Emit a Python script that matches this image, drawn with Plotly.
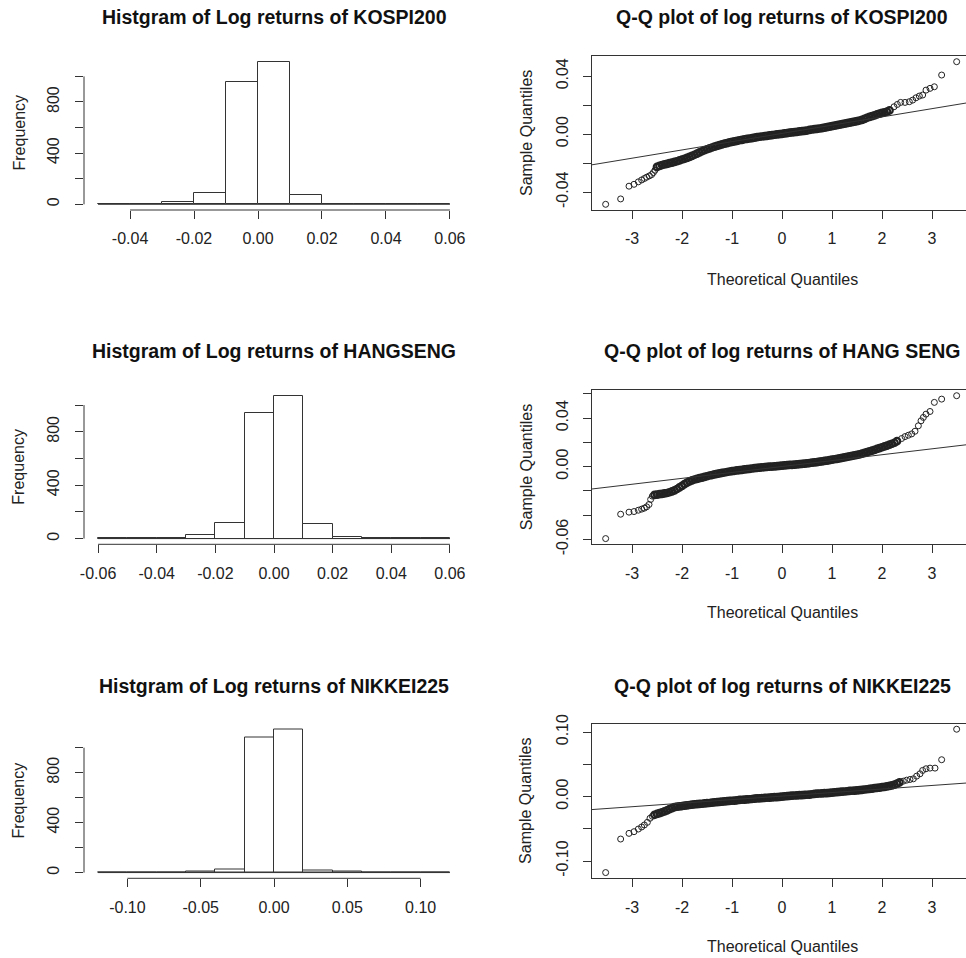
import plotly.graph_objects as go

W, H = 966, 958
FONT = "Liberation Sans, Arial, sans-serif"
INK = "#222222"
LINE = "#333333"

# ---------------- Histogram data (bin edges + counts) ----------------
kospi_edges = [-0.05, -0.04, -0.03, -0.02, -0.01, 0.00, 0.01, 0.02, 0.03, 0.04, 0.05, 0.06]
kospi_counts = [2, 4, 15, 92, 956, 1115, 70, 6, 3, 1, 1]

hsi_edges = [-0.06, -0.05, -0.04, -0.03, -0.02, -0.01, 0.00, 0.01, 0.02, 0.03, 0.04, 0.05, 0.06]
hsi_counts = [1, 2, 6, 25, 120, 940, 1070, 107, 14, 4, 3, 3]

nikkei_edges = [-0.12, -0.10, -0.08, -0.06, -0.04, -0.02, 0.00, 0.02, 0.04, 0.06, 0.08, 0.10, 0.12]
nikkei_counts = [1, 0, 1, 5, 22, 1081, 1148, 14, 5, 0, 0, 1]

kospi_hist_xticks = [-0.04, -0.02, 0.00, 0.02, 0.04, 0.06]
hsi_hist_xticks = [-0.06, -0.04, -0.02, 0.00, 0.02, 0.04, 0.06]
nikkei_hist_xticks = [-0.10, -0.05, 0.00, 0.05, 0.10]
freq_ticks = [0, 200, 400, 600, 800, 1000]
freq_labels = ["0", "", "400", "", "800", ""]

# ---------------- Q-Q data ----------------
# sparse tails (individually visible circles)
kospi_tail_theo = [-3.527, -3.227, -3.06, -2.96, -2.873, -2.807, -2.753, -2.707, -2.653, -2.607, -2.573, -2.54,
                   2.24, 2.307, 2.373, 2.46, 2.547, 2.613, 2.68, 2.747, 2.813, 2.88, 2.96, 3.047, 3.193, 3.493]
kospi_tail_sample = [-0.0484, -0.0447, -0.0359, -0.0346, -0.0329, -0.0316, -0.0306, -0.0297, -0.0288, -0.0279, -0.0265, -0.0249,
                     0.0189, 0.0205, 0.0219, 0.0219, 0.0224, 0.0235, 0.0251, 0.0263, 0.0270, 0.0304, 0.0316, 0.0327, 0.0408, 0.0500]
# dense central band (overplotted circles)
kospi_band_theo = [-2.50, -2.45, -2.40, -2.35, -2.30, -2.25, -2.20, -2.15, -2.10, -2.05, -2.00, -1.95, -1.90, -1.85,
                   -1.80, -1.75, -1.70, -1.65, -1.60, -1.55, -1.50, -1.45, -1.40, -1.35, -1.30, -1.25, -1.20, -1.15,
                   -1.10, -1.05, -1.00, -0.95, -0.90, -0.85, -0.80, -0.75, -0.70, -0.65, -0.60, -0.55, -0.50, -0.45,
                   -0.40, -0.35, -0.30, -0.25, -0.20, -0.15, -0.10, -0.05, 0.00, 0.05, 0.10, 0.15, 0.20, 0.25, 0.30,
                   0.35, 0.40, 0.45, 0.50, 0.55, 0.60, 0.65, 0.70, 0.75, 0.80, 0.85, 0.90, 0.95, 1.00, 1.05, 1.10,
                   1.15, 1.20, 1.25, 1.30, 1.35, 1.40, 1.45, 1.50, 1.55, 1.60, 1.65, 1.70, 1.75, 1.80, 1.85, 1.90,
                   1.95, 2.00, 2.05, 2.10, 2.15]
kospi_band_sample = [-0.0226, -0.0219, -0.0213, -0.0209, -0.0205, -0.0200, -0.0196, -0.0191, -0.0187, -0.0181, -0.0175,
                     -0.0170, -0.0164, -0.0157, -0.0150, -0.0142, -0.0134, -0.0126, -0.0118, -0.0111, -0.0104, -0.0098,
                     -0.0092, -0.0086, -0.0081, -0.0076, -0.0071, -0.0066, -0.0062, -0.0057, -0.0053, -0.0050, -0.0046,
                     -0.0042, -0.0039, -0.0035, -0.0032, -0.0030, -0.0028, -0.0024, -0.0021, -0.0018, -0.0016, -0.0014,
                     -0.0012, -0.0009, -0.0007, -0.0004, -0.0002, 0.0000, 0.0002, 0.0005, 0.0007, 0.0010, 0.0012, 0.0014,
                     0.0016, 0.0019, 0.0021, 0.0023, 0.0025, 0.0029, 0.0032, 0.0035, 0.0037, 0.0039, 0.0041, 0.0045,
                     0.0048, 0.0052, 0.0055, 0.0059, 0.0062, 0.0066, 0.0069, 0.0073, 0.0076, 0.0080, 0.0083, 0.0087,
                     0.0090, 0.0094, 0.0099, 0.0106, 0.0113, 0.0119, 0.0124, 0.0130, 0.0136, 0.0142, 0.0147, 0.0151,
                     0.0155, 0.0164]

hsi_tail_theo = [-3.527, -3.227, -3.06, -2.96, -2.873, -2.807, -2.753, -2.707, -2.66, -2.627, -2.593,
                 2.393, 2.46, 2.527, 2.593, 2.66, 2.727, 2.78, 2.827, 2.88, 2.96, 3.047, 3.193, 3.493]
hsi_tail_sample = [-0.0593, -0.0392, -0.0375, -0.0370, -0.0359, -0.0350, -0.0342, -0.0331, -0.0312, -0.0270, -0.0243,
                   0.0232, 0.0248, 0.0259, 0.0270, 0.0292, 0.0337, 0.0378, 0.0406, 0.0433, 0.0455, 0.0530, 0.0557, 0.0585]
hsi_band_theo = [-2.55, -2.50, -2.45, -2.40, -2.35, -2.30, -2.25, -2.20, -2.15, -2.10, -2.05, -2.00, -1.95, -1.90,
                 -1.85, -1.80, -1.75, -1.70, -1.65, -1.60, -1.55, -1.50, -1.45, -1.40, -1.35, -1.30, -1.25, -1.20,
                 -1.15, -1.10, -1.05, -1.00, -0.95, -0.90, -0.85, -0.80, -0.75, -0.70, -0.65, -0.60, -0.55, -0.50,
                 -0.45, -0.40, -0.35, -0.30, -0.25, -0.20, -0.15, -0.10, -0.05, 0.00, 0.05, 0.10, 0.15, 0.20, 0.25,
                 0.30, 0.35, 0.40, 0.45, 0.50, 0.55, 0.60, 0.65, 0.70, 0.75, 0.80, 0.85, 0.90, 0.95, 1.00, 1.05,
                 1.10, 1.15, 1.20, 1.25, 1.30, 1.35, 1.40, 1.45, 1.50, 1.55, 1.60, 1.65, 1.70, 1.75, 1.80, 1.85,
                 1.90, 1.95, 2.00, 2.05, 2.10, 2.15, 2.20, 2.25, 2.30]
hsi_band_sample = [-0.0233, -0.0230, -0.0227, -0.0224, -0.0221, -0.0217, -0.0211, -0.0204, -0.0195, -0.0184, -0.0171,
                   -0.0158, -0.0144, -0.0131, -0.0121, -0.0113, -0.0106, -0.0101, -0.0095, -0.0090, -0.0084, -0.0079,
                   -0.0073, -0.0069, -0.0064, -0.0060, -0.0056, -0.0052, -0.0048, -0.0044, -0.0040, -0.0037, -0.0034,
                   -0.0031, -0.0028, -0.0026, -0.0023, -0.0020, -0.0018, -0.0015, -0.0012, -0.0010, -0.0008, -0.0006,
                   -0.0004, -0.0002, 0.0000, 0.0001, 0.0003, 0.0005, 0.0007, 0.0009, 0.0011, 0.0012, 0.0014, 0.0015,
                   0.0017, 0.0019, 0.0021, 0.0023, 0.0025, 0.0027, 0.0030, 0.0033, 0.0036, 0.0038, 0.0041, 0.0044,
                   0.0047, 0.0050, 0.0054, 0.0058, 0.0061, 0.0064, 0.0068, 0.0072, 0.0076, 0.0081, 0.0085, 0.0089,
                   0.0093, 0.0097, 0.0101, 0.0107, 0.0114, 0.0120, 0.0126, 0.0132, 0.0139, 0.0146, 0.0153, 0.0160,
                   0.0167, 0.0174, 0.0181, 0.0189, 0.0197, 0.0210]

nikkei_tail_theo = [-3.527, -3.227, -3.06, -2.96, -2.873, -2.807, -2.753, -2.693, -2.64, -2.593,
                    2.427, 2.493, 2.56, 2.627, 2.693, 2.76, 2.813, 2.88, 2.96, 3.06, 3.193, 3.493]
nikkei_tail_sample = [-0.1179, -0.0659, -0.0571, -0.0545, -0.0504, -0.0472, -0.0441, -0.0400, -0.0337, -0.0306,
                      0.0239, 0.0254, 0.0265, 0.0275, 0.0317, 0.0353, 0.0405, 0.0431, 0.0441, 0.0441, 0.0571, 0.1044]
nikkei_band_theo = [-2.55, -2.50, -2.45, -2.40, -2.35, -2.30, -2.25, -2.20, -2.15, -2.10, -2.05, -2.00, -1.95, -1.90,
                    -1.85, -1.80, -1.75, -1.70, -1.65, -1.60, -1.55, -1.50, -1.45, -1.40, -1.35, -1.30, -1.25, -1.20,
                    -1.15, -1.10, -1.05, -1.00, -0.95, -0.90, -0.85, -0.80, -0.75, -0.70, -0.65, -0.60, -0.55, -0.50,
                    -0.45, -0.40, -0.35, -0.30, -0.25, -0.20, -0.15, -0.10, -0.05, 0.00, 0.05, 0.10, 0.15, 0.20, 0.25,
                    0.30, 0.35, 0.40, 0.45, 0.50, 0.55, 0.60, 0.65, 0.70, 0.75, 0.80, 0.85, 0.90, 0.95, 1.00, 1.05,
                    1.10, 1.15, 1.20, 1.25, 1.30, 1.35, 1.40, 1.45, 1.50, 1.55, 1.60, 1.65, 1.70, 1.75, 1.80, 1.85,
                    1.90, 1.95, 2.00, 2.05, 2.10, 2.15, 2.20, 2.25, 2.30, 2.35]
nikkei_band_sample = [-0.0283, -0.0270, -0.0257, -0.0244, -0.0231, -0.0214, -0.0196, -0.0180, -0.0164, -0.0157, -0.0152,
                      -0.0147, -0.0141, -0.0136, -0.0131, -0.0126, -0.0120, -0.0117, -0.0115, -0.0112, -0.0106, -0.0102,
                      -0.0100, -0.0095, -0.0089, -0.0086, -0.0084, -0.0080, -0.0074, -0.0070, -0.0068, -0.0065, -0.0063,
                      -0.0058, -0.0053, -0.0050, -0.0048, -0.0045, -0.0042, -0.0038, -0.0032, -0.0029, -0.0027, -0.0024,
                      -0.0021, -0.0019, -0.0016, -0.0013, -0.0010, -0.0008, -0.0005, -0.0001, 0.0004, 0.0007, 0.0010,
                      0.0013, 0.0016, 0.0018, 0.0021, 0.0023, 0.0026, 0.0028, 0.0031, 0.0036, 0.0041, 0.0044, 0.0047,
                      0.0049, 0.0052, 0.0054, 0.0057, 0.0061, 0.0066, 0.0069, 0.0073, 0.0075, 0.0078, 0.0082, 0.0087,
                      0.0090, 0.0093, 0.0095, 0.0099, 0.0103, 0.0109, 0.0113, 0.0118, 0.0124, 0.0130, 0.0134, 0.0139,
                      0.0145, 0.0150, 0.0157, 0.0165, 0.0174, 0.0185, 0.0200, 0.0220]

# qqline (intercept, slope)
kospi_qqline = (0.0005, 0.0057)
hsi_qqline = (0.0001, 0.00487)
nikkei_qqline = (0.0007, 0.0055)

qq_xticks = [-3, -2, -1, 0, 1, 2, 3]
kospi_qq_yticks = [-0.04, -0.02, 0.00, 0.02, 0.04]
kospi_qq_ylabels = ["-0.04", "", "0.00", "", "0.04"]
hsi_qq_yticks = [-0.06, -0.04, -0.02, 0.00, 0.02, 0.04, 0.06]
hsi_qq_ylabels = ["-0.06", "", "", "0.00", "", "0.04", ""]
nikkei_qq_yticks = [-0.10, -0.05, 0.00, 0.05, 0.10]
nikkei_qq_ylabels = ["-0.10", "", "0.00", "", "0.10"]

hist_titles = ["Histgram of Log returns of KOSPI200",
               "Histgram of Log returns of HANGSENG",
               "Histgram of Log returns of NIKKEI225"]
qq_titles = ["Q-Q plot of log returns of KOSPI200",
             "Q-Q plot of log returns of HANG SENG",
             "Q-Q plot of log returns of NIKKEI225"]

# ---------------- layout geometry (pixels) ----------------
rows_px = [(56, 210), (390, 544.3), (723.5, 878.3)]   # plot-region top/bottom
hist_x_px = (84, 464)
qq_x_px = (591.7, 966)
qq_xrange = [-3.806, 3.68]     # visible part (right edge cropped)
title_y_px = [17, 351, 686]
qq_xlab_y_px = [279, 612, 946]

def px_x(x):
    return x / W

def px_y(y):
    return 1 - y / H

def sfx(i):
    return "" if i == 1 else str(i)

fig = go.Figure()
layout = dict(template="none", width=W, height=H,
              margin=dict(l=0, r=0, t=0, b=0, pad=0, autoexpand=False),
              paper_bgcolor="white", plot_bgcolor="white", showlegend=False,
              font=dict(family=FONT, size=16, color=INK))
shapes = []
annotations = []

hist_sets = [(kospi_edges, kospi_counts, kospi_hist_xticks),
             (hsi_edges, hsi_counts, hsi_hist_xticks),
             (nikkei_edges, nikkei_counts, nikkei_hist_xticks)]
qq_sets = [(kospi_tail_theo, kospi_tail_sample, kospi_band_theo, kospi_band_sample, kospi_qqline,
            kospi_qq_yticks, kospi_qq_ylabels),
           (hsi_tail_theo, hsi_tail_sample, hsi_band_theo, hsi_band_sample, hsi_qqline,
            hsi_qq_yticks, hsi_qq_ylabels),
           (nikkei_tail_theo, nikkei_tail_sample, nikkei_band_theo, nikkei_band_sample, nikkei_qqline,
            nikkei_qq_yticks, nikkei_qq_ylabels)]

def fmt2(v):
    s = "%.2f" % v
    return "0.00" if s == "-0.00" else s

axis_common = dict(showgrid=False, zeroline=False, ticks="outside", ticklen=8, automargin=False,
                   tickwidth=1, tickcolor=LINE, tickfont=dict(family=FONT, size=16, color=INK))

for r in range(3):
    top, bot = rows_px[r]
    ydom = [px_y(bot), px_y(top)]
    # ---------- histogram ----------
    edges, counts, xt = hist_sets[r]
    hs = sfx(2 * r + 1)
    qs = sfx(2 * r + 2)
    centers = [(edges[i] + edges[i + 1]) / 2 for i in range(len(counts))]
    widths = [edges[i + 1] - edges[i] for i in range(len(counts))]
    fig.add_trace(go.Bar(x=centers, y=counts, width=widths,
                         marker=dict(color="white", line=dict(color=LINE, width=1)),
                         xaxis="x" + hs, yaxis="y" + hs, hoverinfo="skip"))
    xr = edges[-1] - edges[0]
    ymax = max(counts)
    layout["xaxis" + hs] = dict(axis_common, domain=[px_x(hist_x_px[0]), px_x(hist_x_px[1])],
                                anchor="y" + hs, range=[edges[0] - 0.04 * xr, edges[-1] + 0.04 * xr],
                                tickvals=xt, ticktext=[fmt2(v) for v in xt], showline=False,
                                ticklabelstandoff=6)
    layout["yaxis" + hs] = dict(axis_common, domain=ydom, anchor="x" + hs,
                                range=[-0.04 * ymax, 1.04 * ymax], tickvals=freq_ticks,
                                ticktext=freq_labels, tickangle=-90, showline=False,
                                ticklabelstandoff=10)
    shapes.append(dict(type="line", xref="x" + hs, yref="y" + hs, x0=edges[0], x1=edges[-1],
                       y0=0, y1=0, line=dict(color=LINE, width=1)))
    shapes.append(dict(type="line", xref="x" + hs, yref="y%s domain" % hs, x0=xt[0], x1=xt[-1],
                       y0=0, y1=0, line=dict(color=LINE, width=1)))
    shapes.append(dict(type="line", xref="x%s domain" % hs, yref="y" + hs, x0=0, x1=0,
                       y0=freq_ticks[0], y1=freq_ticks[-1], line=dict(color=LINE, width=1)))
    annotations.append(dict(text="<b>%s</b>" % hist_titles[r], xref="paper", yref="paper",
                            x=px_x(sum(hist_x_px) / 2), y=px_y(title_y_px[r]), xanchor="center",
                            yanchor="middle", showarrow=False, font=dict(family=FONT, size=19.5, color="#111")))
    annotations.append(dict(text="Frequency", xref="paper", yref="paper", textangle=-90,
                            x=px_x(18.5), y=px_y((top + bot) / 2), xanchor="center", yanchor="middle",
                            showarrow=False, font=dict(family=FONT, size=16, color=INK)))

    # ---------- Q-Q plot ----------
    tt, ts, bt, bs, (b0, b1), yt, yl = qq_sets[r]
    fig.add_trace(go.Scatter(x=bt, y=bs, mode="markers",
                             marker=dict(symbol="circle-open", size=6.5, color="#222",
                                         line=dict(width=2.2, color="#222")),
                             xaxis="x" + qs, yaxis="y" + qs, hoverinfo="skip"))
    fig.add_trace(go.Scatter(x=tt, y=ts, mode="markers",
                             marker=dict(symbol="circle-open", size=6, color="#222",
                                         line=dict(width=1, color="#222")),
                             xaxis="x" + qs, yaxis="y" + qs, hoverinfo="skip"))
    fig.add_trace(go.Scatter(x=qq_xrange, y=[b0 + b1 * v for v in qq_xrange], mode="lines",
                             line=dict(color=LINE, width=1), xaxis="x" + qs, yaxis="y" + qs,
                             hoverinfo="skip"))
    allv = ts + bs
    smin, smax = min(allv), max(allv)
    sr = smax - smin
    layout["xaxis" + qs] = dict(axis_common, domain=[px_x(qq_x_px[0]), px_x(qq_x_px[1])],
                                anchor="y" + qs, range=qq_xrange, tickvals=qq_xticks,
                                ticktext=[str(v) for v in qq_xticks], showline=True, mirror=True,
                                linecolor=LINE, linewidth=1, ticklabelstandoff=6)
    layout["yaxis" + qs] = dict(axis_common, domain=ydom, anchor="x" + qs,
                                range=[smin - 0.04 * sr, smax + 0.04 * sr], tickvals=yt, ticktext=yl,
                                tickangle=-90, showline=True, mirror=False, linecolor=LINE, linewidth=1,
                                ticklabelstandoff=8)
    annotations.append(dict(text="<b>%s</b>" % qq_titles[r], xref="paper", yref="paper",
                            x=px_x(782), y=px_y(title_y_px[r]), xanchor="center", yanchor="middle",
                            showarrow=False, font=dict(family=FONT, size=19.5, color="#111")))
    annotations.append(dict(text="Sample Quantiles", xref="paper", yref="paper", textangle=-90,
                            x=px_x(526), y=px_y((top + bot) / 2), xanchor="center", yanchor="middle",
                            showarrow=False, font=dict(family=FONT, size=16, color=INK)))
    annotations.append(dict(text="Theoretical Quantiles", xref="paper", yref="paper",
                            x=px_x(782), y=px_y(qq_xlab_y_px[r]), xanchor="center", yanchor="middle",
                            showarrow=False, font=dict(family=FONT, size=16, color=INK)))

layout["shapes"] = shapes
layout["annotations"] = annotations
layout["bargap"] = 0
fig.update_layout(**layout)
fig.write_html("out.html", config={"displayModeBar": False, "responsive": False})

# remove the browser's default page margin so the figure sits at (0, 0)
with open("out.html", "r", encoding="utf-8") as f:
    html = f.read()
html = html.replace("<head>", "<head><style>html,body{margin:0;padding:0;overflow:hidden;}</style>", 1)
with open("out.html", "w", encoding="utf-8") as f:
    f.write(html)
